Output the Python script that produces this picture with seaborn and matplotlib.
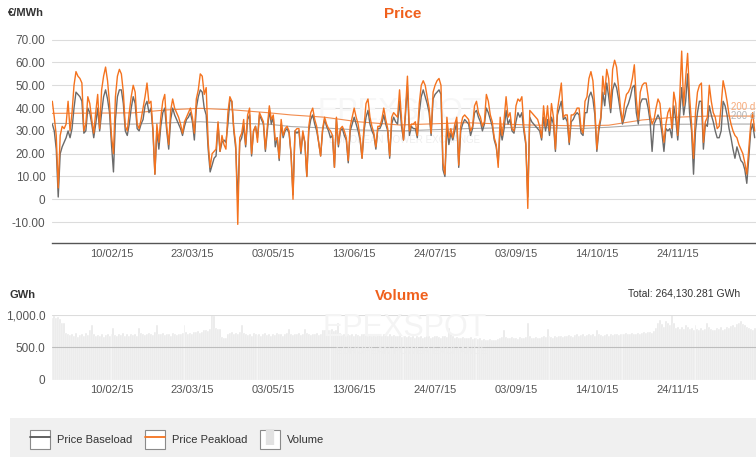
import numpy as np
import pandas as pd
import matplotlib.pyplot as plt
import seaborn as sns
from matplotlib.lines import Line2D
from matplotlib.patches import Patch, Rectangle

# daily values, first day = 11/01/15
start = pd.Timestamp("2015-01-11")

base = [
    33, 30, 22, 1, 20, 23, 25, 27, 30, 27,
    31, 40, 47, 46, 45, 43, 29, 30, 40, 38,
    33, 27, 33, 40, 30, 38, 45, 48, 44, 38,
    24, 12, 35, 45, 48, 48, 42, 30, 28, 33,
    40, 45, 42, 31, 30, 33, 35, 41, 43, 38,
    40, 30, 11, 30, 22, 32, 38, 40, 30, 22,
    35, 40, 37, 35, 33, 31, 28, 32, 35, 36,
    38, 34, 26, 40, 45, 48, 47, 40, 37, 22,
    12, 15, 18, 19, 33, 21, 25, 26, 25, 33,
    43.5, 43, 30, 22, -1, 25, 27, 32, 23, 35,
    37, 19, 30, 32, 27, 37, 35, 33, 21, 30,
    39, 33, 36, 23, 27, 17, 33, 27, 30, 31,
    29, 20, 2, 30, 29, 30, 20, 29, 25, 10,
    30, 35, 37, 33, 30, 25, 19, 30, 35, 32,
    30, 27, 28, 14, 35, 23, 30, 31, 28, 26,
    16, 30, 33, 36, 33, 30, 26, 18, 30, 36,
    39, 33, 30, 28, 22, 31, 31, 33, 37, 33,
    30, 18, 33, 36, 34, 33, 43, 32, 26, 37,
    50, 28, 32, 31, 31, 27, 38, 45, 48, 45,
    42, 38, 28, 44, 46, 47, 48, 46, 13, 10,
    32, 24, 29, 26, 30, 34, 14, 30, 33, 35,
    34, 33, 28, 31, 38, 39, 36, 34, 30, 33,
    40, 38, 35, 32, 26, 23, 16, 31, 26, 31,
    39, 33, 35, 30, 29, 34, 38, 36, 38, 30,
    24, 1, 36, 34, 33, 32, 31, 30, 26, 36,
    30, 35, 28, 36, 33, 21, 37, 40, 43, 35,
    36, 34, 24, 34, 35, 37, 38, 37, 29, 28,
    38, 38, 45, 47, 44, 37, 21, 30, 35, 47,
    41, 51, 45, 38, 48, 51, 49, 44, 38, 33,
    36, 40, 42, 45, 49, 50, 38, 33, 42, 44,
    44, 44, 40, 34, 21, 33, 35, 37, 35, 29,
    21, 31, 30, 31, 27, 41, 35, 26, 37, 49,
    37, 43, 55, 38, 30, 11, 30, 38, 43, 43,
    22, 33, 32, 41, 37, 34, 30, 27, 27, 30,
    43, 41, 37, 31, 27, 22, 18, 23, 20, 17,
    16, 13, 7, 18, 30, 33, 27,
]

peak = [
    43, 36, 28, 5, 28, 32, 31, 33, 43, 30,
    38, 50, 56, 54, 53, 51, 30, 33, 45, 42,
    35, 29, 38, 46, 31, 48, 54, 58, 52, 42,
    28, 20, 45, 54, 57, 55, 47, 32, 30, 38,
    45, 50, 47, 33, 31, 35, 40, 45, 51, 42,
    43, 31, 11, 33, 25, 36, 43, 46, 32, 24,
    39, 44, 40, 38, 36, 33, 29, 34, 36, 38,
    40, 36, 29, 44, 48, 55, 54, 46, 49, 25,
    14, 20, 21, 22, 34, 21, 28, 24, 22, 38,
    45, 43, 31, 24, -11, 27, 29, 35, 24, 37,
    40, 20, 30, 32, 25, 38, 36, 34, 22, 32,
    41, 35, 37, 26, 27, 18, 35, 28, 31, 32,
    30, 20, 0, 30, 31, 31, 21, 30, 25, 10,
    32, 38, 40, 35, 32, 25, 19, 31, 36, 33,
    31, 30, 28, 14, 36, 24, 31, 32, 30, 27,
    17, 32, 36, 40, 36, 33, 27, 18, 32, 42,
    44, 36, 32, 29, 23, 32, 32, 35, 40, 35,
    31, 19, 36, 38, 37, 36, 48, 35, 26, 39,
    54, 30, 33, 33, 34, 28, 42, 50, 52, 50,
    45, 40, 29, 47, 50, 52, 53, 50, 16, 11,
    36, 27, 31, 27, 33, 36, 15, 32, 36, 37,
    36, 35, 30, 32, 41, 43, 38, 36, 32, 34,
    46, 43, 37, 34, 27, 24, 14, 36, 28, 35,
    45, 36, 38, 31, 30, 41, 44, 43, 45, 32,
    25, -4, 39, 38, 37, 36, 35, 32, 27, 41,
    32, 41, 30, 42, 36, 22, 39, 45, 51, 36,
    37, 37, 25, 37, 37, 38, 40, 40, 31, 29,
    43, 45, 53, 56, 52, 40, 22, 32, 36, 54,
    46, 57, 53, 40, 57, 61, 58, 49, 40, 34,
    42, 46, 47, 49, 53, 59, 44, 35, 47, 50,
    51, 51, 45, 37, 33, 35, 40, 44, 42, 32,
    25, 33, 38, 40, 31, 47, 42, 28, 45, 65,
    41, 53, 64, 45, 33, 18, 38, 47, 50, 51,
    25, 34, 36, 50, 43, 38, 36, 31, 32, 41,
    52, 48, 43, 37, 33, 30, 28, 27, 24, 22,
    20, 16, 11, 22, 33, 38, 30,
]

volume = [
    960, 990, 950, 975, 940, 880, 870,
    720, 700, 690, 705, 680, 715, 660,
    690, 700, 680, 720, 690, 760, 850,
    700, 680, 690, 670, 700, 660, 690,
    710, 680, 700, 800, 690, 670, 700,
    690, 720, 680, 700, 670, 710, 690,
    700, 680, 800, 720, 700, 690, 710,
    720, 700, 690, 730, 850, 710, 700,
    720, 690, 700, 710, 680, 720, 700,
    690, 710, 700, 720, 850, 730, 700,
    720, 710, 740, 730, 750, 720, 740,
    760, 770, 750, 780, 1000, 990, 800,
    790, 780, 660, 650, 640, 700, 720,
    730, 710, 720, 700, 740, 850, 720,
    700, 690, 710, 680, 720, 700, 690,
    710, 680, 700, 720, 690, 700, 680,
    700, 690, 720, 700, 710, 680, 700,
    720, 780, 700, 690, 710, 700, 720,
    690, 700, 780, 720, 700, 690, 710,
    700, 720, 690, 710, 760, 770, 750,
    770, 760, 780, 750, 770, 880, 720,
    690, 700, 680, 700, 690, 710, 680,
    700, 690, 680, 700, 710, 690, 680,
    700, 680, 690, 670, 700, 690, 680,
    700, 690, 680, 700, 670, 690, 680,
    670, 690, 660, 680, 670, 660, 680,
    660, 670, 650, 680, 660, 670, 650,
    660, 680, 670, 650, 660, 670, 680,
    660, 650, 670, 680, 660, 800, 700,
    670, 650, 660, 640, 650, 660, 640,
    650, 640, 660, 630, 640, 650, 630,
    640, 620, 630, 610, 620, 630, 620,
    610, 620, 630, 640, 660, 770, 660,
    650, 640, 660, 640, 650, 630, 660,
    650, 640, 660, 880, 670, 650, 640,
    660, 640, 650, 660, 670, 660, 780,
    680, 660, 650, 670, 660, 680, 670,
    660, 680, 670, 690, 680, 660, 690,
    700, 680, 690, 700, 680, 690, 700,
    690, 700, 680, 770, 700, 690, 680,
    690, 700, 680, 700, 690, 710, 700,
    690, 700, 710, 700, 720, 710, 700,
    720, 700, 710, 720, 700, 720, 730,
    720, 740, 730, 720, 750, 800, 880,
    930, 860, 820, 900, 870, 850, 1000,
    880, 800, 820, 780, 810, 790, 840,
    820, 780, 800, 760, 850, 790, 770,
    800, 760, 780, 880, 820, 790, 770,
    760, 800, 780, 820, 770, 790, 810,
    800, 830, 850, 820, 860, 880, 900,
    860, 840, 820, 800, 780, 760, 800,
]

# 200 day averages read at a few days
ma_days = [0, 41, 58, 75, 92, 109, 121, 138, 155, 176, 210, 241, 267, 282, 299, 316, 333, 356]
ma_peak = [37.7, 37.9, 39.2, 39.9, 39.2, 38.0, 37.0, 36.0, 34.0, 32.6, 33.6, 32.6, 32.2, 32.5, 34.8, 36.0, 36.5, 36.5]
ma_base = [33.3, 33.0, 33.5, 34.0, 33.3, 33.0, 31.9, 31.3, 30.4, 30.0, 31.0, 31.6, 31.0, 31.6, 32.6, 32.9, 33.0, 33.0]

tick_dates = ["2015-02-10", "2015-03-23", "2015-05-03", "2015-06-13",
              "2015-07-24", "2015-09-03", "2015-10-14", "2015-11-24"]
price_ticks = [-10, 0, 10, 20, 30, 40, 50, 60, 70]
volume_ticks = [0, 500, 1000]
total_text = "Total: 264,130.281 GWh"

ORANGE = "#f4731f"
GREY = "#6b6b6b"
TITLE = "#f0601c"

sns.set_style("white")
plt.rcParams["font.family"] = ["Liberation Sans", "DejaVu Sans"]

W, H = 756, 457
fx = lambda x: x / W
fy = lambda y: 1 - y / H

df = pd.DataFrame({"day": np.arange(len(base)), "base": base, "peak": peak, "volume": volume})
ma = pd.DataFrame({"day": ma_days, "peak": ma_peak, "base": ma_base})
tick_pos = [(pd.Timestamp(d) - start).days for d in tick_dates]
tick_lab = [pd.Timestamp(d).strftime("%d/%m/%y") for d in tick_dates]
xmax = (W - 52.3) / 1.973

fig = plt.figure(figsize=(W / 100, H / 100), dpi=100)

# ---- price panel
ax1 = fig.add_axes([fx(52.3), fy(243.3), 1 - fx(52.3), (243.3 - 28.3) / H])
for v in price_ticks:
    ax1.axhline(v, color="#dcdcdc", lw=0.8, zorder=0)
ax1.text(fx(400), fy(112), "EPEXSPOT", transform=fig.transFigure, ha="center", va="center",
         fontsize=22, color="#f7f7f7", zorder=0.5)
ax1.text(fx(405), fy(140), "EUROPEAN POWER EXCHANGE", transform=fig.transFigure, ha="center",
         va="center", fontsize=7, color="#efefef", zorder=0.5)
sns.lineplot(data=ma, x="day", y="base", color="#ababab", lw=0.8, ax=ax1)
sns.lineplot(data=ma, x="day", y="peak", color="#f28c4e", lw=0.8, ax=ax1)
sns.lineplot(data=df, x="day", y="base", color=GREY, lw=1.0, ax=ax1)
sns.lineplot(data=df, x="day", y="peak", color=ORANGE, lw=1.0, ax=ax1)
ax1.set_xlim(0, xmax)
ax1.set_ylim(-19.3, 75)
ax1.set_yticks(price_ticks)
ax1.set_yticklabels(["0" if v == 0 else f"{v:.2f}" for v in price_ticks])
ax1.set_xticks(tick_pos)
ax1.set_xticklabels(tick_lab)
ax1.set_xlabel("")
ax1.set_ylabel("")
ax1.tick_params(length=0, labelsize=8, colors="#555555")
ax1.tick_params(axis="y", labelsize=8.5, pad=5)
ax1.tick_params(axis="x", pad=4)
for s in ["top", "right", "left"]:
    ax1.spines[s].set_visible(False)
ax1.spines["bottom"].set_color("#555555")
ax1.spines["bottom"].set_linewidth(1)

fig.text(fx(731), fy(107), "200 d", fontsize=7, color="#f7a978", va="center")
fig.text(fx(731), fy(116), "200 d", fontsize=7, color="#b5b5b5", va="center")

fig.text(fx(8), fy(13), "€/MWh", fontsize=8, fontweight="bold", color="#333333", va="center")
fig.text(fx(403), fy(14), "Price", fontsize=11, fontweight="bold", color=TITLE, ha="center", va="center")

# ---- volume panel
ax2 = fig.add_axes([fx(52.3), fy(379.5), 1 - fx(52.3), (379.5 - 315) / H])
ax2.text(fx(405), fy(328), "EPEXSPOT", transform=fig.transFigure, ha="center", va="center",
         fontsize=22, color="#f4f4f4", zorder=3)
ax2.text(fx(412), fy(351), "EUROPEAN POWER EXCHANGE", transform=fig.transFigure, ha="center",
         va="center", fontsize=7, color="#ededed", zorder=3)
sns.histplot(data=df, x="day", weights="volume", binwidth=1, binrange=(-0.5, len(volume) - 0.5),
             color="#e6e6e6", edgecolor="white", linewidth=0.35, alpha=1, ax=ax2)
ax2.axhline(0, color="#dddddd", lw=0.8, zorder=2)
ax2.axhline(500, color="#bdbdbd", lw=0.8, zorder=2)
ax2.axhline(1000, color="#dcdcdc", lw=0.8, zorder=2)
ax2.set_xlim(0, xmax)
ax2.set_ylim(0, 1000)
ax2.set_yticks(volume_ticks)
ax2.set_yticklabels(["0" if v == 0 else f"{v:,.1f}" for v in volume_ticks])
ax2.set_xticks(tick_pos)
ax2.set_xticklabels(tick_lab)
ax2.set_xlabel("")
ax2.set_ylabel("")
ax2.tick_params(length=0, labelsize=8, colors="#555555")
ax2.tick_params(axis="y", labelsize=8.5, pad=5)
ax2.tick_params(axis="x", pad=4)
sns.despine(ax=ax2, left=True, bottom=True)

fig.text(fx(10), fy(295), "GWh", fontsize=8, fontweight="bold", color="#333333", va="center")
fig.text(fx(402), fy(296), "Volume", fontsize=11, fontweight="bold", color=TITLE, ha="center", va="center")
fig.text(fx(740), fy(293), total_text, fontsize=7.5, color="#333333", ha="right", va="center")

# ---- legend strip
fig.patches.append(Rectangle((fx(10), 0), 1 - fx(10), 39 / H, transform=fig.transFigure,
                             facecolor="#f0f0f0", edgecolor="none", zorder=0))
box = dict(facecolor="white", edgecolor="#8a8a8a", linewidth=0.8)
handles = [
    (Patch(**box), Line2D([0], [0], color="#555555", lw=1.3)),
    (Patch(**box), Line2D([0], [0], color=ORANGE, lw=1.3)),
    (Patch(**box), Line2D([0], [0], marker="|", markersize=12, markeredgewidth=6,
                          color="#e2e2e2", linestyle="none")),
]
fig.legend(handles, ["Price Baseload", "Price Peakload", "Volume"], loc="center left",
           bbox_to_anchor=(fx(30), fy(439.5)), ncol=3, frameon=False, fontsize=8,
           handlelength=1.8, handleheight=2.2, handletextpad=0.65, columnspacing=1.1,
           borderpad=0, borderaxespad=0, labelcolor="#333333")

fig.savefig("out.png", dpi=100)
